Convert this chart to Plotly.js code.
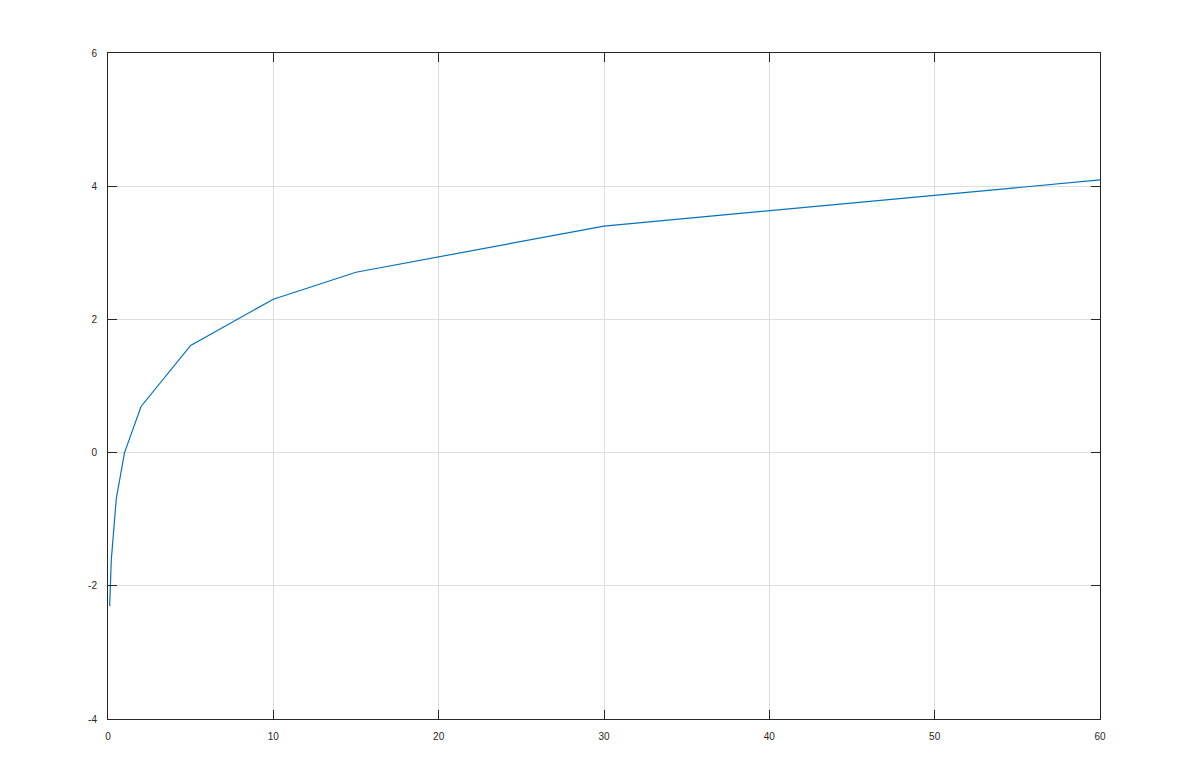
<!DOCTYPE html>
<html>
<head>
<meta charset="utf-8">
<script src="https://cdn.plot.ly/plotly-3.0.1.min.js"></script>
<style>html,body{margin:0;padding:0;background:#fff;}#chart{width:1186px;height:766px;}</style>
</head>
<body>
<div id="chart"></div>
<script>
const xValues = [0.1, 0.2, 0.5, 1, 2, 5, 10, 15, 30, 60];
const yValues = [-2.303, -1.609, -0.693, 0, 0.693, 1.609, 2.303, 2.708, 3.401, 4.094];
const xTicks = [0, 10, 20, 30, 40, 50, 60];
const yTicks = [-4, -2, 0, 2, 4, 6];

const axisCommon = {
  showline: true, mirror: 'ticks', linecolor: '#262626', linewidth: 1,
  ticks: 'inside', ticklen: 9, tickcolor: '#262626', tickwidth: 1,
  showgrid: true, gridcolor: '#dcdcdc', gridwidth: 1,
  zeroline: false, tickfont: {family: 'Liberation Sans, Arial, sans-serif', size: 10, color: '#262626'},
  tickmode: 'array'
};

const trace = {
  x: xValues, y: yValues, type: 'scatter', mode: 'lines',
  line: {color: '#0072BD', width: 1.2}, hoverinfo: 'skip'
};

const layout = {
  width: 1186, height: 766,
  margin: {l: 108, r: 86, t: 53, b: 47},
  paper_bgcolor: '#ffffff', plot_bgcolor: '#ffffff',
  showlegend: false,
  xaxis: Object.assign({}, axisCommon, {range: [0, 60], tickvals: xTicks, ticktext: xTicks.map(String), ticklabelstandoff: 8}),
  yaxis: Object.assign({}, axisCommon, {range: [-4, 6], tickvals: yTicks, ticktext: yTicks.map(String), ticklabelstandoff: 8})
};

Plotly.newPlot('chart', [trace], layout, {staticPlot: true, displayModeBar: false});
</script>
</body>
</html>
